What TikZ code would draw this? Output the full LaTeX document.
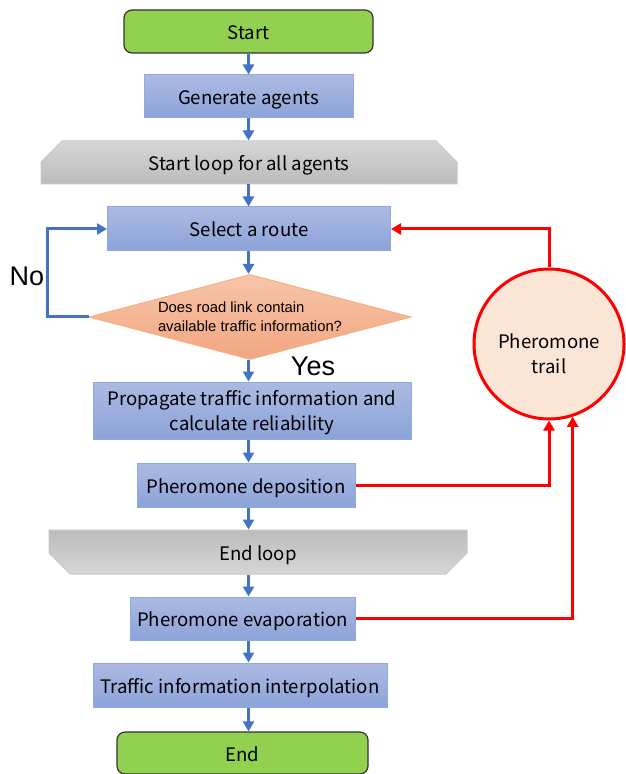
\documentclass[tikz,border=0pt]{standalone}
\usepackage{fontspec}
\usepackage{tikz}
\usetikzlibrary{arrows.meta,shapes,positioning,calc}
\setmainfont{Noto Sans CJK JP}
\newfontfamily\arialfont{Liberation Sans}
\definecolor{flowblue}{RGB}{68,114,196}
\definecolor{boxtop}{RGB}{172,186,226}
\definecolor{boxbot}{RGB}{140,163,217}
\definecolor{boxedge}{RGB}{143,170,220}
\definecolor{termgreen}{RGB}{146,208,80}
\definecolor{asktop}{RGB}{247,197,170}
\definecolor{askbot}{RGB}{243,166,128}
\definecolor{askedge}{RGB}{244,177,131}
\definecolor{looptop}{RGB}{214,214,214}
\definecolor{loopbot}{RGB}{188,188,188}
\definecolor{trailfill}{RGB}{251,229,214}
\definecolor{trailred}{RGB}{255,0,0}

\tikzset{
  boxfont/.style={font=\fontsize{9.3}{12.5}\selectfont, text height=8pt, text depth=0pt},
  procbox/.style={boxfont, draw=boxedge, line width=0.5pt, top color=boxtop, bottom color=boxbot, align=center, inner sep=0pt},
  termbox/.style={boxfont, draw=black!80, line width=0.6pt, fill=termgreen, rounded corners=4pt, inner sep=0pt},
  loopbox/.style={boxfont, chamfered rectangle, draw=black!22, line width=0.5pt, chamfered rectangle xsep=10.5pt, chamfered rectangle ysep=10.5pt, inner xsep=0pt, inner ysep=-4pt},
  askbox/.style={diamond, shape aspect=3.8, draw=askedge, line width=0.5pt, top color=asktop, bottom color=askbot, inner sep=-8pt, align=left, font=\arialfont\fontsize{7.4}{9.5}\selectfont},
  answer/.style={font=\arialfont\fontsize{13.5}{15}\selectfont, inner sep=0pt},
  flow/.style={draw=flowblue, line width=1.5pt, -{Triangle[width=5.5pt,length=5pt]}},
  pher/.style={draw=trailred, line width=1.5pt, -{Triangle[width=5.5pt,length=5pt]}},
}

\begin{document}
\begin{tikzpicture}[x=0.5pt,y=-0.5pt]
    % Canvas
    \useasboundingbox (0,0) rectangle (625,774);

    % Main column
    \node[termbox, minimum width=124.5pt, minimum height=21.5pt] (start) at (248.5,31.5) {Start};
    \node[procbox, minimum width=104.5pt, minimum height=21.5pt] (gen) at (248.5,96.5) {Generate agents};
    \node[loopbox, chamfered rectangle corners={north west,north east}, top color=looptop, bottom color=loopbot,
          minimum width=208pt, minimum height=21.5pt] (loopA) at (249,162.5) {Start loop for all agents};
    \node[procbox, minimum width=141.5pt, minimum height=22pt] (route) at (249,229) {Select a route};
    \node[askbox, minimum width=161pt, minimum height=42.5pt] (ask) at (250,317) {Does road link contain\\available traffic information?};
    \node[procbox, minimum width=159pt, minimum height=28.5pt, text height=19.5pt] (prop) at (252,410.5) {Propagate traffic information and\\calculate reliability};
    \node[procbox, minimum width=109pt, minimum height=22pt] (depo) at (246,485) {Pheromone deposition};
    \node[loopbox, chamfered rectangle corners={south west,south east}, top color=loopbot, bottom color=looptop,
          minimum width=209pt, minimum height=22pt] (loopB) at (258,552) {End loop};
    \node[procbox, minimum width=112.5pt, minimum height=21.5pt] (evap) at (242.5,618.5) {Pheromone evaporation};
    \node[procbox, minimum width=147pt, minimum height=22pt] (interp) at (240,685) {Traffic information interpolation};
    \node[termbox, minimum width=125.5pt, minimum height=21pt] (finish) at (242.5,753) {End};

    % Pheromone store
    \node[circle, draw=trailred, line width=1.5pt, fill=trailfill, minimum size=75pt, align=center, boxfont, text height=29pt] (trail) at (549,344) {Pheromone\\trail};

    % Answers
    \node[answer] (no) at (27,276) {No};
    \node[answer] (yes) at (313,366) {Yes};

    % Flow arrows
    \draw[flow] (start.south -| start) -- (gen.north -| start);
    \draw[flow] (gen.south -| start) -- (loopA.north -| start);
    \draw[flow] (loopA.south -| start) -- (route.north -| start);
    \draw[flow] (route.south -| start) -- (ask.north -| start);
    \draw[flow] (ask.south -| start) -- (prop.north -| start);
    \draw[flow] (prop.south -| start) -- (depo.north -| start);
    \draw[flow] (depo.south -| start) -- (loopB.north -| start);
    \draw[flow] (loopB.south -| start) -- (evap.north -| start);
    \draw[flow] (evap.south -| start) -- (interp.north -| start);
    \draw[flow] (interp.south -| start) -- (finish.north -| start);

    % No branch
    \draw[flow] (ask.west) -- ++(-41,0) |- (route.west);

    % Pheromone links
    \draw[pher] (trail.north) |- (route.east);
    \draw[pher] (depo.east) -| (trail.south);
    \draw[pher] (evap.east) -| (trail.-72);
\end{tikzpicture}
\end{document}
